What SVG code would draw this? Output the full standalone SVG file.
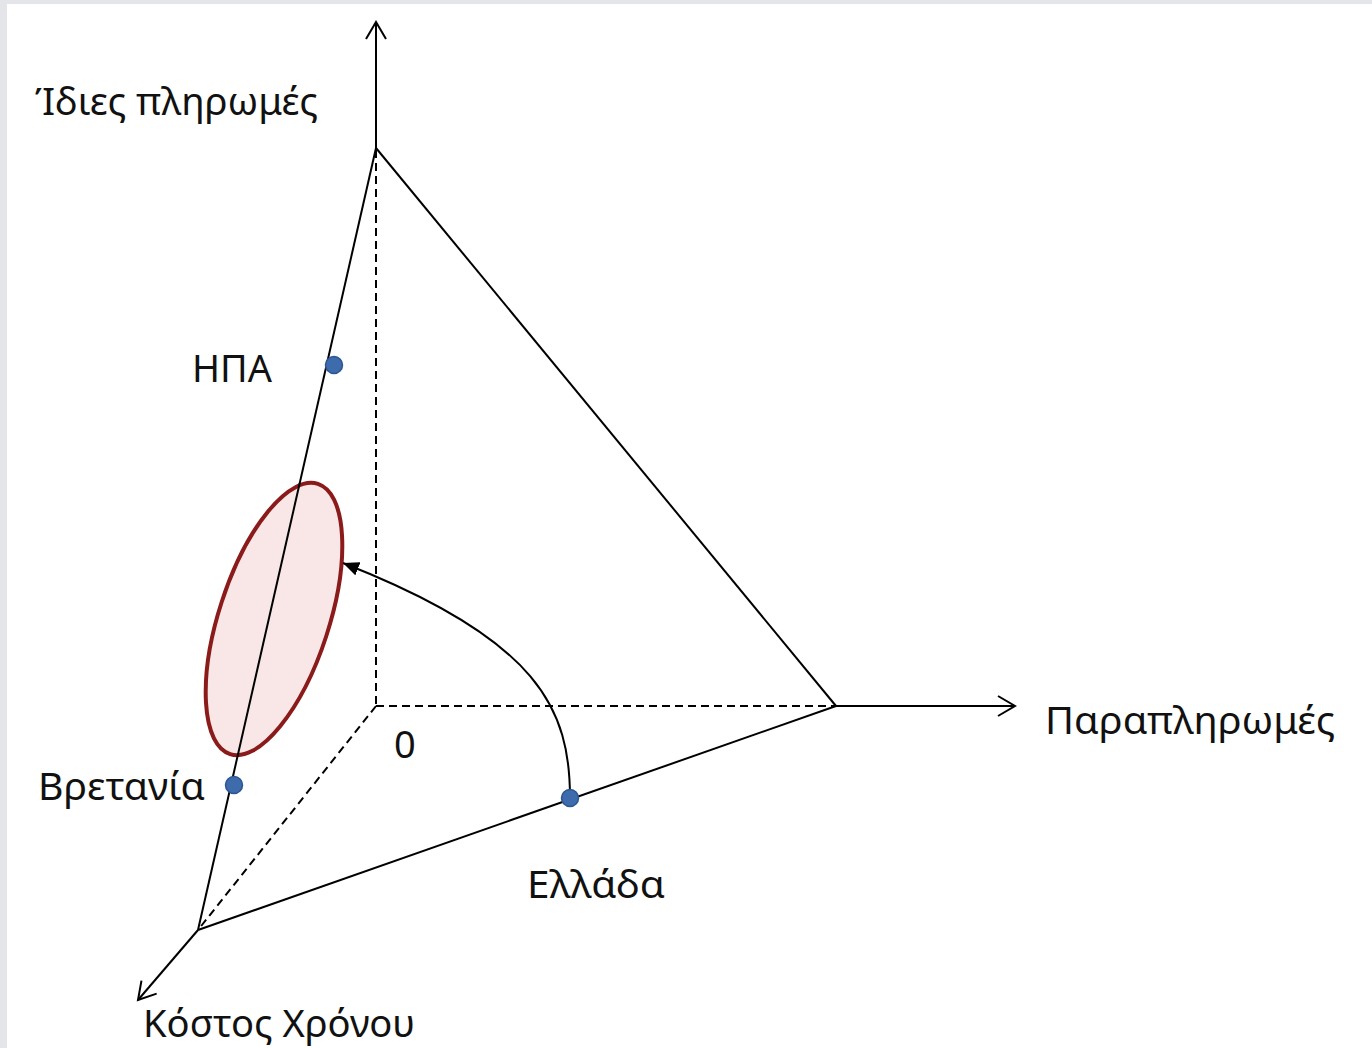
<svg xmlns="http://www.w3.org/2000/svg" width="1372" height="1048" viewBox="0 0 1372 1048">
<style>
.ax{stroke:#000;stroke-width:2;fill:none}
.dash{stroke:#000;stroke-width:2;fill:none;stroke-dasharray:8 5}
.lbl{font-family:"Noto Sans","Open Sans","DejaVu Sans",sans-serif;font-size:38px;fill:#111}
.dot{fill:#3d6bab;stroke:#2d5592;stroke-width:1.5}
</style>
<defs>
<marker id="open" markerUnits="userSpaceOnUse" markerWidth="24" markerHeight="24" refX="20" refY="12" orient="auto">
<path d="M3,2 L20,12 L3,22" fill="none" stroke="#000" stroke-width="2"/>
</marker>
<marker id="solid" markerUnits="userSpaceOnUse" markerWidth="18" markerHeight="14" refX="16" refY="7" orient="auto">
<path d="M0,0 L16,7 L0,14 Z" fill="#000"/>
</marker>
</defs>
<rect x="0" y="0" width="1372" height="1048" fill="#e4e5e8"/>
<rect x="7" y="4" width="1365" height="1044" fill="#fff"/>
<g id="connectors">
<line class="dash" x1="376" y1="150" x2="376" y2="706"/>
<line class="dash" x1="376" y1="706" x2="836" y2="706"/>
<line class="dash" x1="376" y1="706" x2="198" y2="930"/>
<line class="ax" x1="376" y1="148" x2="376" y2="22" marker-end="url(#open)"/>
<line class="ax" x1="836" y1="706" x2="1015" y2="706" marker-end="url(#open)"/>
<line class="ax" x1="198" y1="930" x2="138" y2="1000" marker-end="url(#open)"/>
<line class="ax" x1="376" y1="148" x2="836" y2="706"/>
<line class="ax" x1="198" y1="930" x2="836" y2="706"/>
</g>
<g id="region">
<ellipse cx="274" cy="619" rx="55" ry="142" transform="rotate(18 274 619)" fill="#f9e7e7" stroke="#8b1a1a" stroke-width="4"/>
</g>
<g id="edge-left">
<line class="ax" x1="376" y1="148" x2="198" y2="930"/>
</g>
<g id="shift">
<path class="ax" d="M570,798 C570,710 540,640 343,563" marker-end="url(#solid)"/>
</g>
<g id="usa"><circle class="dot" cx="334" cy="365" r="8.5"/><text class="lbl" x="192" y="382" textLength="80" lengthAdjust="spacingAndGlyphs">ΗΠΑ</text></g>
<g id="uk"><circle class="dot" cx="234" cy="785" r="8.5"/><text class="lbl" x="38" y="800" textLength="167" lengthAdjust="spacingAndGlyphs">Βρετανία</text></g>
<g id="greece"><circle class="dot" cx="570" cy="798" r="8.5"/><text class="lbl" x="527" y="898" textLength="138" lengthAdjust="spacingAndGlyphs">Ελλάδα</text></g>
<g id="axis-labels">
<text class="lbl" x="35" y="115" textLength="283" lengthAdjust="spacingAndGlyphs">Ίδιες πληρωμές</text>
<text class="lbl" x="1045" y="734" textLength="290" lengthAdjust="spacingAndGlyphs">Παραπληρωμές</text>
<text class="lbl" x="143" y="1037" textLength="272" lengthAdjust="spacingAndGlyphs">Κόστος Χρόνου</text>
<text class="lbl" x="394" y="758">0</text>
</g>
</svg>
